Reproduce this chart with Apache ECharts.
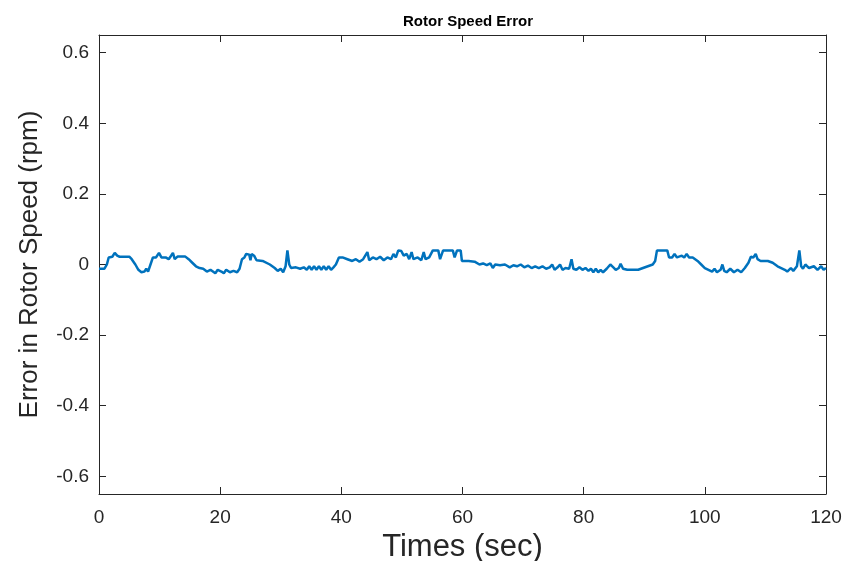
<!DOCTYPE html>
<html>
<head>
<meta charset="utf-8">
<script src="https://cdn.jsdelivr.net/npm/echarts@6/dist/echarts.min.js"></script>
<style>html,body{margin:0;padding:0;background:#fff}#c{width:848px;height:561px}</style>
</head>
<body>
<div id="c"></div>
<script>
const times = [
  0,0.9,1.3,1.6,2.2,2.6,3.0,3.4,5.0,5.4,
  6.0,6.5,7.0,7.5,7.8,8.1,8.5,8.9,9.4,9.9,
  10.3,11.0,11.5,11.9,12.2,12.5,13.0,14.2,14.8,15.4,
  16.0,16.6,17.2,17.8,18.0,18.4,18.8,19.2,19.6,20.2,
  20.6,21.0,21.6,22.2,22.8,23.2,23.6,24.0,24.3,24.8,
  25.0,25.2,25.6,26.0,27.0,28.2,29.0,29.5,30.0,30.4,
  30.8,31.1,31.4,31.7,32.5,33.2,33.8,34.3,34.7,35.1,
  35.5,35.9,36.3,36.7,37.1,37.5,37.9,38.3,38.7,39.1,
  39.6,40.2,41.0,41.8,42.4,43.0,43.6,44.3,44.6,45.2,
  45.8,46.4,47.0,47.6,48.2,48.6,49.0,49.4,49.9,50.3,
  50.8,51.2,51.6,51.9,52.6,53.2,53.6,53.9,54.5,55.1,
  56.0,56.3,56.8,58.4,58.7,58.9,59.1,59.7,59.9,61.0,
  62.0,62.8,63.4,64.0,64.6,65.0,65.4,66.2,67.0,67.8,
  68.4,69.0,69.6,70.2,70.8,71.4,72.0,72.6,73.2,73.8,
  74.4,74.8,75.2,75.7,76.1,76.5,77.0,77.6,78.0,78.3,
  78.8,79.3,79.8,80.3,80.8,81.2,81.6,82.0,82.4,82.8,
  83.2,83.8,84.4,84.9,85.3,85.8,86.1,86.5,87.2,89.0,
  89.8,90.6,91.4,91.8,92.1,93.8,94.1,94.6,95.0,95.4,
  96.2,96.6,97.0,97.4,98.0,98.8,99.4,100.0,100.6,101.2,
  101.6,102.0,102.6,102.9,103.2,103.6,104.2,104.8,105.4,106.0,
  106.6,107.2,107.6,108.0,108.4,108.7,109.2,110.4,111.2,112.0,
  112.6,113.2,113.6,114.2,114.6,115.2,115.6,115.9,116.2,116.6,
  117.2,118.0,118.6,119.2,119.6,120.0
];
const errors = [
  -0.012,-0.012,0.0,0.02,0.022,0.033,0.025,0.022,0.022,0.015,
  0.0,-0.015,-0.022,-0.02,-0.012,-0.02,0.0,0.02,0.02,0.033,
  0.02,0.02,0.015,0.025,0.033,0.015,0.023,0.023,0.015,0.005,
  -0.005,-0.01,-0.012,-0.02,-0.025,-0.015,-0.02,-0.025,-0.015,-0.02,
  -0.025,-0.015,-0.022,-0.018,-0.022,-0.012,0.015,0.02,0.03,0.028,
  0.012,0.03,0.025,0.012,0.01,0.0,-0.01,-0.018,-0.012,-0.022,
  -0.005,0.04,0.0,-0.01,-0.008,-0.012,-0.008,-0.015,-0.005,-0.015,
  -0.005,-0.015,-0.005,-0.015,-0.005,-0.015,-0.005,-0.015,-0.008,0.0,
  0.02,0.02,0.015,0.01,0.015,0.008,0.015,0.035,0.012,0.02,
  0.015,0.022,0.012,0.02,0.015,0.03,0.02,0.04,0.038,0.025,
  0.03,0.015,0.035,0.015,0.02,0.012,0.035,0.015,0.02,0.04,
  0.04,0.015,0.04,0.04,0.02,0.02,0.04,0.04,0.01,0.01,
  0.008,0.0,0.003,-0.002,0.003,-0.01,0.0,-0.002,0.0,-0.008,
  -0.002,-0.005,0.0,-0.008,-0.003,-0.01,-0.005,-0.01,-0.005,-0.012,
  -0.008,0.0,-0.015,-0.008,0.0,-0.015,-0.01,-0.012,0.015,-0.012,
  -0.015,-0.008,-0.015,-0.01,-0.018,-0.012,-0.022,-0.012,-0.022,-0.015,
  -0.022,-0.012,0.0,-0.008,-0.015,-0.01,0.002,-0.012,-0.015,-0.015,
  -0.01,-0.005,0.0,0.01,0.04,0.04,0.02,0.02,0.03,0.02,
  0.025,0.02,0.03,0.02,0.02,0.01,0.0,-0.01,-0.015,-0.02,
  -0.012,-0.022,-0.015,0.0,-0.018,-0.022,-0.012,-0.022,-0.015,-0.022,
  -0.01,0.005,0.022,0.02,0.03,0.015,0.01,0.01,0.005,-0.005,
  -0.01,-0.015,-0.02,-0.01,-0.018,-0.005,0.04,-0.005,-0.012,0.0,
  -0.01,-0.005,-0.015,-0.005,-0.015,-0.01
];
const xTicks = [0,20,40,60,80,100,120];
const yTicks = [-0.6,-0.4,-0.2,0,0.2,0.4,0.6];

const data = times.map((t,i)=>[t, errors[i]]);
const axisCol = '#262626';
const font = 'Liberation Sans, Arial, sans-serif';
const chart = echarts.init(document.getElementById('c'), null, {renderer:'canvas'});
const yFmt = v => Math.abs(v) < 1e-9 ? '0' : v.toFixed(1);
chart.setOption({
  animation:false,
  backgroundColor:'#fff',
  title:{text:'Rotor Speed Error', left:463, top:9, textAlign:'center',
    textStyle:{fontFamily:font, fontSize:15, fontWeight:'bold', color:'#000'}},
  grid:{left:99, right:22, top:35, bottom:67, containLabel:false, outerBoundsMode:'none'},
  xAxis:[{
    type:'value', min:0, max:120, interval:20,
    name:'Times (sec)', nameLocation:'middle', nameGap:34,
    nameTextStyle:{fontFamily:font, fontSize:31, color:axisCol},
    axisLine:{onZero:false, lineStyle:{color:axisCol, width:1}},
    axisTick:{inside:true, length:7, customValues:xTicks, lineStyle:{color:axisCol}},
    axisLabel:{fontFamily:font, fontSize:19, color:axisCol, margin:14, customValues:xTicks},
    splitLine:{show:false}
  },{
    type:'value', min:0, max:120, interval:20, position:'top',
    axisLine:{show:true, onZero:false, lineStyle:{color:axisCol, width:1}},
    axisTick:{inside:true, length:7, customValues:xTicks, lineStyle:{color:axisCol}},
    axisLabel:{show:false}, splitLine:{show:false}
  }],
  yAxis:[{
    type:'value', min:-0.65, max:0.65,
    name:'Error in Rotor Speed (rpm)', nameLocation:'middle', nameGap:56,
    nameTextStyle:{fontFamily:font, fontSize:26, color:axisCol},
    axisLine:{show:true, onZero:false, lineStyle:{color:axisCol, width:1}},
    axisTick:{show:true, inside:true, length:7, customValues:yTicks, lineStyle:{color:axisCol}},
    axisLabel:{fontFamily:font, fontSize:19, color:axisCol, margin:10, customValues:yTicks, formatter:yFmt},
    splitLine:{show:false}
  },{
    type:'value', min:-0.65, max:0.65, position:'right',
    axisLine:{show:true, onZero:false, lineStyle:{color:axisCol, width:1}},
    axisTick:{show:true, inside:true, length:7, customValues:yTicks, lineStyle:{color:axisCol}},
    axisLabel:{show:false}, splitLine:{show:false}
  }],
  series:[{
    type:'line', data:data, xAxisIndex:0, yAxisIndex:0,
    showSymbol:false, symbol:'none',
    lineStyle:{color:'#0072BD', width:2.5}
  }]
});
</script>
</body>
</html>
